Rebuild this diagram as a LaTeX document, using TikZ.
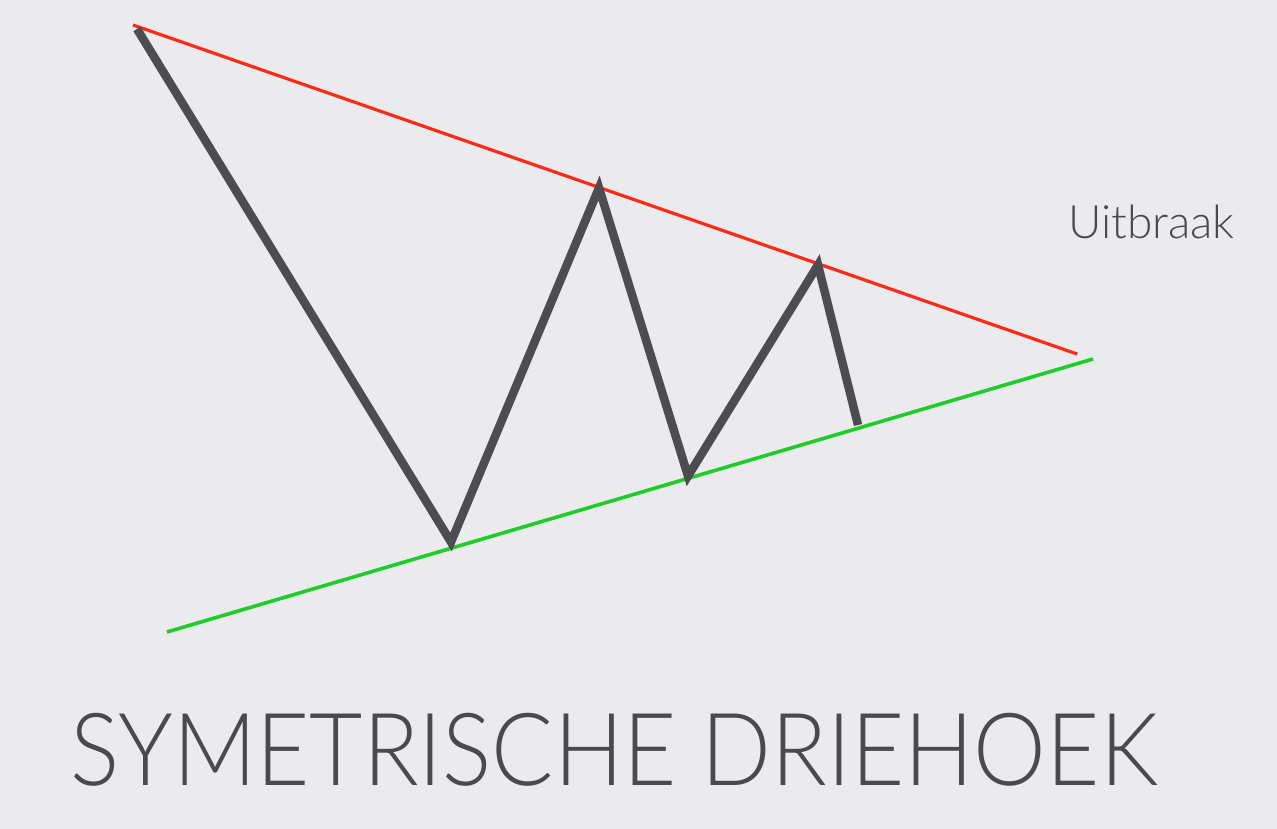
\documentclass[tikz,border=0pt]{standalone}
\usepackage{fontspec}
\newfontfamily\gill{Lato Light}
\definecolor{zig}{HTML}{4D4D51}
\definecolor{redl}{HTML}{FF2A1A}
\definecolor{greenl}{HTML}{1FCC2A}
\definecolor{bg}{HTML}{EBEBED}
\definecolor{txt}{HTML}{4A4A4E}
\tikzset{
  resline/.style={redl, line width=3.2pt},
  supline/.style={greenl, line width=3.6pt},
  price/.style={zig, line width=8.5pt, line join=miter, miter limit=10},
}
\begin{document}
\begin{tikzpicture}[x=1pt,y=-1pt]
\fill[bg] (0,0) rectangle (1277,829);
\useasboundingbox (0,0) rectangle (1277,829);
\coordinate (r1) at (133,25);
\coordinate (r2) at (1077,354);
\coordinate (g1) at (167,632);
\coordinate (g2) at (1093,359);
\coordinate (p0) at (137,29);
\coordinate (p1) at (451,542);
\coordinate (p2) at (599,188);
\coordinate (p3) at (688,476);
\coordinate (p4) at (818,265);
\coordinate (p5) at (858,425);
\draw[resline] (r1) -- (r2);
\draw[supline] (g1) -- (g2);
\draw[price] (p0) -- (p1) -- (p2) -- (p3) -- (p4) -- (p5);
\node[anchor=base west, inner sep=0pt, text=txt, font=\gill\fontsize{46}{50}\selectfont] (ui) at (1068,238) {Uitbraak};
\node[anchor=base west, inner sep=0pt, text=txt, font=\gill\fontsize{101}{110}\selectfont] (title) at (70,785) {\scalebox{0.91}[1]{SYMETRISCHE DRIEHOEK}};
\end{tikzpicture}
\end{document}
